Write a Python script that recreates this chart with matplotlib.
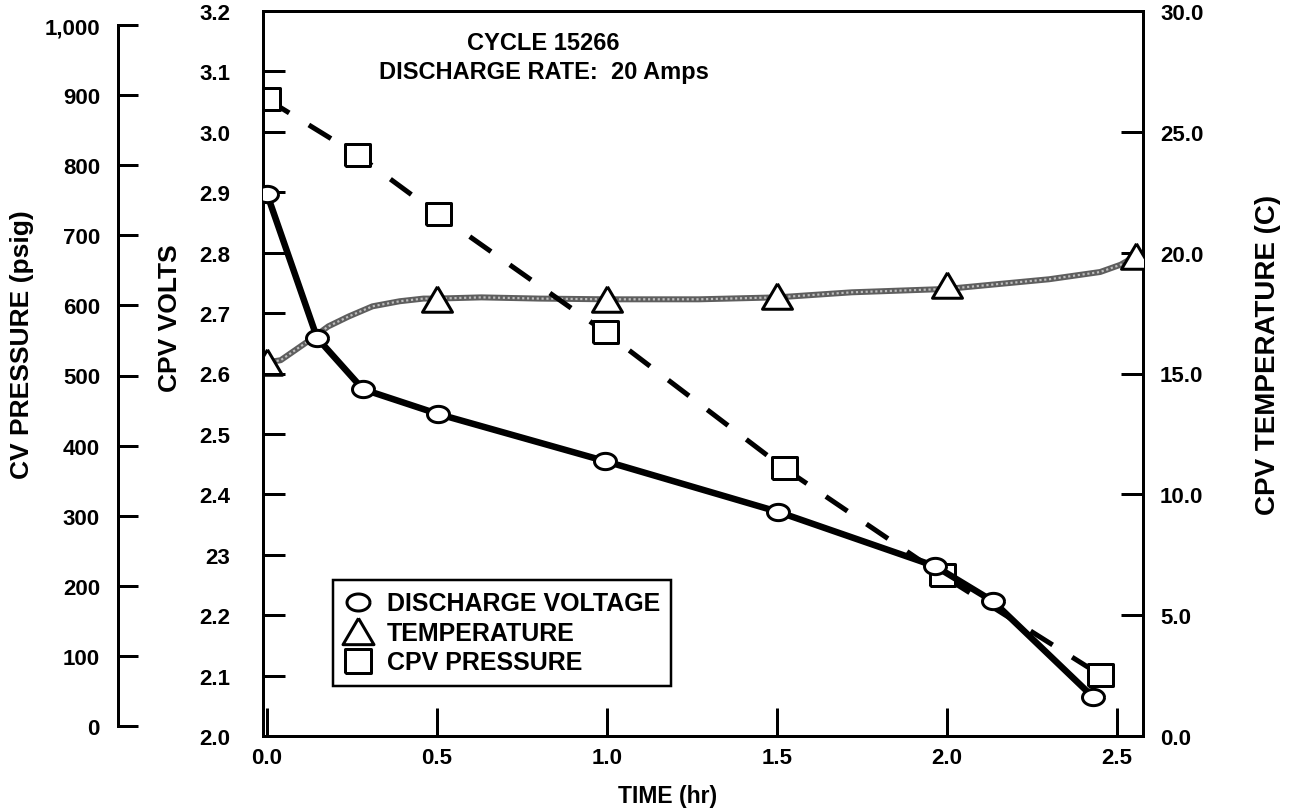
import matplotlib
matplotlib.use("Agg")
import matplotlib.pyplot as plt
from matplotlib.lines import Line2D
import numpy as np

# ---------------- data ----------------
volt_t = [0.0, 0.147, 0.282, 0.503, 0.994, 1.503, 1.965, 2.135, 2.43]
volt_v = [2.897, 2.659, 2.574, 2.533, 2.455, 2.371, 2.281, 2.223, 2.064]

temp_t = [0.0, 0.5, 1.0, 1.5, 2.0, 2.556]
temp_c = [15.46, 18.1, 18.1, 18.2, 18.67, 19.87]

temp_curve_t = [0.0, 0.04, 0.12, 0.18, 0.24, 0.31, 0.39, 0.46, 0.5, 0.63, 0.8,
                1.0, 1.27, 1.5, 1.72, 1.8, 2.0, 2.3, 2.45, 2.51, 2.556]
temp_curve_c = [15.46, 15.55, 16.33, 16.95, 17.36, 17.78, 17.99, 18.1, 18.1, 18.15, 18.1,
                18.07, 18.07, 18.15, 18.36, 18.4, 18.5, 18.9, 19.2, 19.5, 19.87]

press_t = [0.0, 0.265, 0.503, 0.994, 1.52, 1.985, 2.45]
press_p = [894, 815, 730, 562, 368, 215, 73]

x_ticks = [0.0, 0.5, 1.0, 1.5, 2.0, 2.5]
x_labels = ["0.0", "0.5", "1.0", "1.5", "2.0", "2.5"]
volt_ticks = [2.0, 2.1, 2.2, 2.3, 2.4, 2.5, 2.6, 2.7, 2.8, 2.9, 3.0, 3.1, 3.2]
volt_labels = ["2.0", "2.1", "2.2", "23", "2.4", "2.5", "2.6", "2.7", "2.8", "2.9", "3.0", "3.1", "3.2"]
temp_ticks = [0, 5, 10, 15, 20, 25, 30]
temp_labels = ["0.0", "5.0", "10.0", "15.0", "20.0", "25.0", "30.0"]
press_ticks = [0, 100, 200, 300, 400, 500, 600, 700, 800, 900, 1000]
press_labels = ["0", "100", "200", "300", "400", "500", "600", "700", "800", "900", "1,000"]

# ---------------- style ----------------
plt.rcParams["font.family"] = ["Liberation Sans", "DejaVu Sans"]
plt.rcParams["font.weight"] = "bold"

W, H = 1307, 812
PX = 72.0 / 100.0  # points per pixel
fig = plt.figure(figsize=(W / 100, H / 100), dpi=100)
fig.patch.set_facecolor("white")

L, R, T, B = 263, 1143, 12, 737
pos = [L / W, 1 - B / H, (R - L) / W, (B - T) / H]
xmin, xmax = -0.012, 2.576

ellipse = np.column_stack([np.cos(np.linspace(0, 2 * np.pi, 60)),
                           0.74 * np.sin(np.linspace(0, 2 * np.pi, 60))])
tri = [(0, 0.85), (-1, -0.85), (1, -0.85), (0, 0.85)]
rect = [(-1, -0.9), (1, -0.9), (1, 0.9), (-1, 0.9), (-1, -0.9)]

tick_fs = 16
lw_sp = 3 * PX

# temperature axes (bottom layer)
ax_t = fig.add_axes(pos)
ax_t.set_zorder(1)
ax_t.patch.set_visible(False)
ax_t.set_xlim(xmin, xmax)
ax_t.set_ylim(0, 30)
for s in ["left", "top", "bottom"]:
    ax_t.spines[s].set_visible(False)
ax_t.spines["right"].set_linewidth(lw_sp)
ax_t.yaxis.tick_right()
ax_t.set_xticks([])
ax_t.set_yticks(temp_ticks)
ax_t.set_yticklabels(temp_labels)
ax_t.tick_params(axis="y", direction="in", length=22 * PX, width=lw_sp,
                 pad=17 * PX, labelsize=tick_fs)
ax_t.plot(temp_curve_t, temp_curve_c, color="#5e5e5e", lw=6 * PX,
          solid_capstyle="round", zorder=2)
ax_t.plot(temp_curve_t, temp_curve_c, color="#bdbdbd", lw=2.2 * PX,
          linestyle=(0, (1.0, 1.2)), zorder=3)
ax_t.plot(temp_t, temp_c, linestyle="None", marker=tri, ms=30 * PX,
          mfc="white", mec="black", mew=3 * PX, zorder=4)

# pressure axes (middle layer), left spine moved out
ax_p = fig.add_axes([L / W, 1 - 727 / H, (R - L) / W, (727 - 26) / H])
ax_p.set_zorder(2)
ax_p.patch.set_visible(False)
ax_p.set_xlim(xmin, xmax)
ax_p.set_ylim(0, 1000)
for s in ["right", "top", "bottom"]:
    ax_p.spines[s].set_visible(False)
ax_p.spines["left"].set_position(("outward", (L - 118) * PX))
ax_p.spines["left"].set_linewidth(lw_sp)
ax_p.set_xticks([])
ax_p.set_yticks(press_ticks)
ax_p.set_yticklabels(press_labels)
ax_p.tick_params(axis="y", direction="in", length=20 * PX, width=lw_sp,
                 pad=18 * PX, labelsize=tick_fs)
ax_p.plot(press_t, press_p, color="black", lw=5 * PX,
          linestyle=(0, (5.2, 4.6)), dash_capstyle="butt", zorder=2)
ax_p.plot(press_t, press_p, linestyle="None", marker=rect, ms=25 * PX,
          mfc="white", mec="black", mew=3 * PX, zorder=4)

# volts axes (top layer)
ax_v = fig.add_axes(pos)
ax_v.set_zorder(3)
ax_v.patch.set_visible(False)
ax_v.set_xlim(xmin, xmax)
ax_v.set_ylim(2.0, 3.2)
ax_v.spines["right"].set_visible(False)
for s in ["left", "top", "bottom"]:
    ax_v.spines[s].set_linewidth(lw_sp)
ax_v.set_yticks(volt_ticks)
ax_v.set_yticklabels(volt_labels)
ax_v.set_xticks(x_ticks)
ax_v.set_xticklabels(x_labels)
ax_v.tick_params(axis="y", direction="in", length=22 * PX, width=lw_sp,
                 pad=33 * PX, labelsize=tick_fs)
ax_v.tick_params(axis="x", direction="in", length=28 * PX, width=lw_sp,
                 pad=11 * PX, labelsize=tick_fs)
ax_v.plot(volt_t, volt_v, color="black", lw=6.5 * PX, zorder=3,
          solid_joinstyle="round")
ax_v.plot(volt_t, volt_v, linestyle="None", marker=ellipse, ms=22 * PX,
          mfc="white", mec="black", mew=3 * PX, zorder=5)

# legend
handles = [
    Line2D([], [], linestyle="None", marker=ellipse, ms=23 * PX, mfc="white",
           mec="black", mew=3 * PX),
    Line2D([], [], linestyle="None", marker=tri, ms=31 * PX, mfc="white",
           mec="black", mew=3 * PX),
    Line2D([], [], linestyle="None", marker=[(-1, -0.95), (1, -0.95), (1, 0.95), (-1, 0.95), (-1, -0.95)],
           ms=26 * PX, mfc="white", mec="black", mew=3 * PX),
]
labels = ["DISCHARGE VOLTAGE", "TEMPERATURE", "CPV PRESSURE"]
leg = ax_v.legend(handles, labels, loc="upper left",
                  bbox_to_anchor=(333 / W, 1 - 581 / H),
                  bbox_transform=fig.transFigure, frameon=True, fancybox=False,
                  framealpha=1, edgecolor="black", prop={"size": 18, "weight": "bold"},
                  handlelength=1.1, handletextpad=0.6, borderpad=0.45,
                  labelspacing=0.22, borderaxespad=0)
leg.get_frame().set_linewidth(2.5 * PX)
leg.set_zorder(10)

# texts
def ftext(x, y, s, **kw):
    fig.text(x / W, 1 - y / H, s, ha="center", va="center", fontweight="bold", **kw)

ftext(543, 43, "CYCLE 15266", fontsize=17)
ftext(544, 72, "DISCHARGE RATE:  20 Amps", fontsize=17)
ftext(668, 797, "TIME (hr)", fontsize=16.5)
ftext(22, 345, "CV PRESSURE (psig)", fontsize=19, rotation=90)
ftext(170, 318, "CPV VOLTS", fontsize=19, rotation=90)
ftext(1268, 355, "CPV TEMPERATURE (C)", fontsize=20, rotation=90)

fig.savefig("out.png", dpi=100, facecolor="white")
